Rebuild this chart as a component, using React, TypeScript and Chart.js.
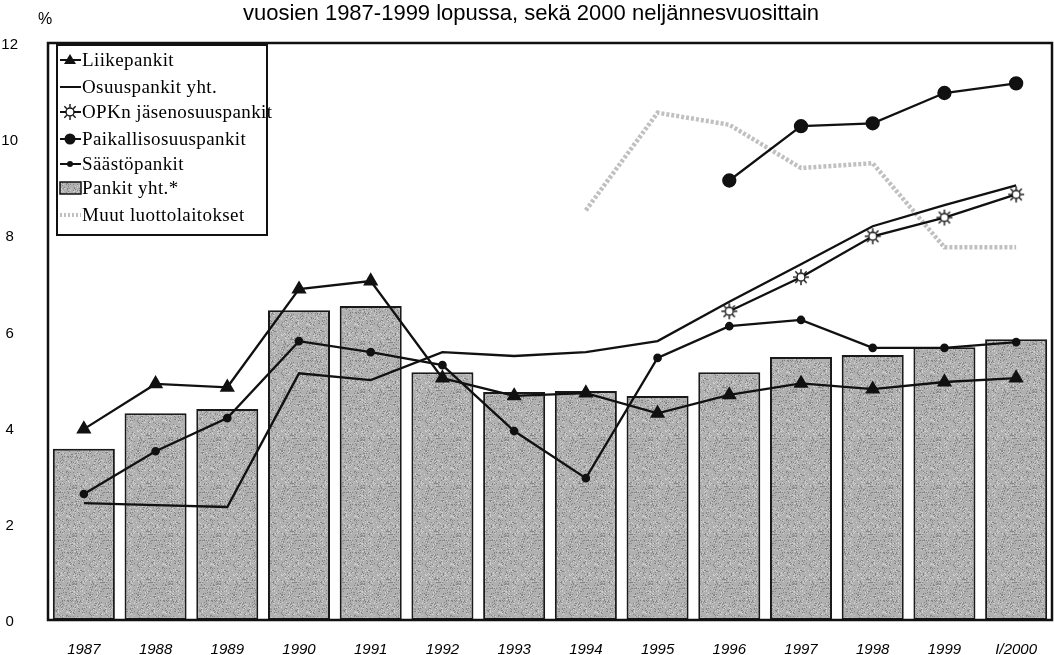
import { useEffect, useRef } from 'react';
import { Chart, registerables } from 'chart.js';

Chart.register(...registerables);

const categories = ['1987', '1988', '1989', '1990', '1991', '1992', '1993', '1994', '1995', '1996', '1997', '1998', '1999', 'I/2000'];
const pankitYht = [3.56, 4.3, 4.39, 6.44, 6.53, 5.15, 4.74, 4.76, 4.66, 5.15, 5.47, 5.51, 5.67, 5.84];
const liikepankit = [3.97, 4.91, 4.84, 6.88, 7.05, 5.03, 4.66, 4.72, 4.3, 4.68, 4.92, 4.8, 4.95, 5.03];
const osuuspankit = [2.43, 2.39, 2.35, 5.13, 4.99, 5.57, 5.49, 5.57, 5.8, 6.62, 7.4, 8.19, 8.63, 9.04];
const opkJasen = [null, null, null, null, null, null, null, null, null, 6.42, 7.13, 7.98, 8.37, 8.85];
const paikallis = [null, null, null, null, null, null, null, null, null, 9.14, 10.27, 10.33, 10.96, 11.16];
const saastopankit = [2.62, 3.51, 4.2, 5.8, 5.57, 5.3, 3.93, 2.95, 5.45, 6.11, 6.24, 5.66, 5.66, 5.78];
const muut = [null, null, null, null, null, null, null, 8.52, 10.55, 10.3, 9.4, 9.5, 7.75, 7.75];
const yTicks = [0, 2, 4, 6, 8, 10, 12];

const titleText = 'vuosien 1987-1999 lopussa, sekä 2000 neljännesvuosittain';
const unitText = '%';
const legendLabels = [
  'Liikepankit',
  'Osuuspankit yht.',
  'OPKn jäsenosuuspankit',
  'Paikallisosuuspankit',
  'Säästöpankit',
  'Pankit yht.*',
  'Muut luottolaitokset',
];

const LINE = '#111111';
const MUUT = 'rgba(185,185,185,0.9)';

function makeBarPattern(): CanvasPattern | string {
  const c = document.createElement('canvas');
  c.width = 48;
  c.height = 48;
  const ctx = c.getContext('2d');
  if (!ctx) return '#b0b0b0';
  ctx.fillStyle = '#b0b0b0';
  ctx.fillRect(0, 0, 48, 48);
  for (let y = 0; y < 48; y++) {
    for (let x = 0; x < 48; x++) {
      const h = (((x * 73856093) ^ (y * 19349663)) >>> 0) % 9;
      if (h === 0) {
        ctx.fillStyle = '#858585';
        ctx.fillRect(x, y, 1, 1);
      } else if (h === 1) {
        ctx.fillStyle = '#d0d0d0';
        ctx.fillRect(x, y, 1, 1);
      }
    }
  }
  return ctx.createPattern(c, 'repeat') || '#b0b0b0';
}

function makeSun(): HTMLCanvasElement {
  const c = document.createElement('canvas');
  c.width = 18;
  c.height = 18;
  const ctx = c.getContext('2d');
  if (!ctx) return c;
  const cx = 9, cy = 9;
  ctx.strokeStyle = LINE;
  ctx.lineWidth = 1.4;
  for (let i = 0; i < 8; i++) {
    const a = (i * Math.PI) / 4;
    ctx.beginPath();
    ctx.moveTo(cx + Math.cos(a) * 4.5, cy + Math.sin(a) * 4.5);
    ctx.lineTo(cx + Math.cos(a) * 8, cy + Math.sin(a) * 8);
    ctx.stroke();
  }
  ctx.beginPath();
  ctx.arc(cx, cy, 4, 0, Math.PI * 2);
  ctx.fillStyle = '#ffffff';
  ctx.fill();
  ctx.stroke();
  return c;
}

export default function App() {
  const ref = useRef<HTMLCanvasElement | null>(null);

  useEffect(() => {
    const canvas = ref.current;
    if (!canvas) return;
    const pattern = makeBarPattern();
    const sun = makeSun();

    const decorPlugin = {
      id: 'decor',
      afterDatasetsDraw(chart: any) {
        const { ctx, chartArea } = chart;
        ctx.save();
        ctx.strokeStyle = LINE;
        ctx.lineWidth = 2.5;
        ctx.strokeRect(chartArea.left, chartArea.top, chartArea.right - chartArea.left, chartArea.bottom - chartArea.top);
        ctx.restore();
      },
      afterDraw(chart: any) {
        const { ctx } = chart;
        ctx.save();
        // title
        ctx.fillStyle = '#000';
        ctx.font = '22px "Liberation Sans", Arial, sans-serif';
        ctx.textAlign = 'center';
        ctx.textBaseline = 'middle';
        ctx.fillText(titleText, 531, 14);
        ctx.font = '16px "Liberation Sans", Arial, sans-serif';
        ctx.fillText(unitText, 45, 20);

        // legend
        const bx = 57, by = 45, bw = 210, bh = 190;
        ctx.fillStyle = '#fff';
        ctx.fillRect(bx, by, bw, bh);
        ctx.strokeStyle = LINE;
        ctx.lineWidth = 2;
        ctx.strokeRect(bx, by, bw, bh);
        const rowY = [60, 87, 112, 139, 164, 188, 215];
        const sx0 = 60, sx1 = 81, sxm = 70;
        ctx.font = '19px "Liberation Serif", "Times New Roman", serif';
        try { (ctx as any).letterSpacing = '0.4px'; } catch (e) { /* ignore */ }
        ctx.textAlign = 'left';
        ctx.textBaseline = 'middle';
        legendLabels.forEach((label, i) => {
          const y = rowY[i];
          ctx.save();
          if (i <= 4) {
            ctx.strokeStyle = LINE;
            ctx.lineWidth = 2;
            ctx.beginPath();
            ctx.moveTo(sx0, y);
            ctx.lineTo(sx1, y);
            ctx.stroke();
          }
          ctx.fillStyle = LINE;
          if (i === 0) {
            ctx.beginPath();
            ctx.moveTo(sxm, y - 6);
            ctx.lineTo(sxm + 6, y + 4);
            ctx.lineTo(sxm - 6, y + 4);
            ctx.closePath();
            ctx.fill();
          } else if (i === 2) {
            ctx.drawImage(sun, sxm - 9, y - 9);
          } else if (i === 3) {
            ctx.beginPath();
            ctx.arc(sxm, y, 5.5, 0, Math.PI * 2);
            ctx.fill();
          } else if (i === 4) {
            ctx.beginPath();
            ctx.arc(sxm, y, 3, 0, Math.PI * 2);
            ctx.fill();
          } else if (i === 5) {
            ctx.fillStyle = pattern as any;
            ctx.fillRect(sx0, y - 6, sx1 - sx0, 12);
            ctx.strokeStyle = LINE;
            ctx.lineWidth = 1.5;
            ctx.strokeRect(sx0, y - 6, sx1 - sx0, 12);
          } else if (i === 6) {
            ctx.strokeStyle = MUUT;
            ctx.lineWidth = 4;
            ctx.setLineDash([2, 2]);
            ctx.beginPath();
            ctx.moveTo(sx0, y);
            ctx.lineTo(sx1, y);
            ctx.stroke();
          }
          ctx.restore();
          ctx.fillStyle = '#000';
          ctx.fillText(label, 82, y + 1);
        });
        ctx.restore();
      },
    };

    const lineBase = {
      type: 'line' as const,
      borderColor: LINE,
      backgroundColor: LINE,
      borderWidth: 2.3,
      tension: 0,
      spanGaps: false,
      order: 1,
    };

    const chart = new Chart(canvas, {
      type: 'bar',
      data: {
        labels: categories,
        datasets: [
          {
            ...lineBase,
            label: legendLabels[6],
            data: muut,
            borderColor: MUUT,
            backgroundColor: MUUT,
            borderWidth: 4.5,
            borderDash: [3, 2],
            pointRadius: 0,
            order: 5,
          } as any,
          {
            type: 'bar',
            label: legendLabels[5],
            data: pankitYht,
            backgroundColor: pattern as any,
            borderColor: '#1a1a1a',
            borderWidth: 2,
            borderSkipped: false,
            categoryPercentage: 1,
            barPercentage: 0.865,
            order: 10,
          } as any,
          {
            ...lineBase,
            label: legendLabels[1],
            data: osuuspankit,
            pointRadius: 0,
          } as any,
          {
            ...lineBase,
            label: legendLabels[0],
            data: liikepankit,
            pointStyle: 'triangle',
            pointRadius: 6.5,
          } as any,
          {
            ...lineBase,
            label: legendLabels[2],
            data: opkJasen,
            pointStyle: sun,
            pointRadius: 9,
          } as any,
          {
            ...lineBase,
            label: legendLabels[3],
            data: paikallis,
            pointStyle: 'circle',
            pointRadius: 6,
          } as any,
          {
            ...lineBase,
            label: legendLabels[4],
            data: saastopankit,
            pointStyle: 'circle',
            pointRadius: 3.2,
          } as any,
        ],
      },
      options: {
        responsive: false,
        animation: false,
        layout: { autoPadding: false, padding: { top: 43, left: 0, right: 2, bottom: 0 } },
        plugins: {
          legend: { display: false },
          title: { display: false },
          tooltip: { enabled: false },
        },
        scales: {
          x: {
            grid: { display: false },
            border: { display: false },
            offset: true,
            ticks: {
              color: '#000',
              padding: 13,
              maxRotation: 0,
              autoSkip: false,
              font: { family: '"Liberation Sans", Arial, sans-serif', size: 15, style: 'italic' },
            },
            afterFit(scale: any) {
              scale.height = 35;
              scale.paddingLeft = 0;
              scale.paddingRight = 0;
            },
          },
          y: {
            min: 0,
            max: 12,
            grid: { display: false },
            border: { display: false },
            afterBuildTicks(scale: any) {
              scale.ticks = yTicks.map((v) => ({ value: v }));
            },
            ticks: {
              color: '#000',
              padding: 22,
              crossAlign: 'center',
              labelOffset: 2,
              font: { family: '"Liberation Sans", Arial, sans-serif', size: 15 },
            },
            afterFit(scale: any) {
              scale.width = 48;
            },
          },
        },
      },
      plugins: [decorPlugin],
    });

    return () => chart.destroy();
  }, []);

  return (
    <div style={{ position: 'fixed', left: 0, top: 0, width: 1054, height: 655, background: '#fff' }}>
      <canvas ref={ref} width={1054} height={655} style={{ display: 'block' }} />
    </div>
  );
}
